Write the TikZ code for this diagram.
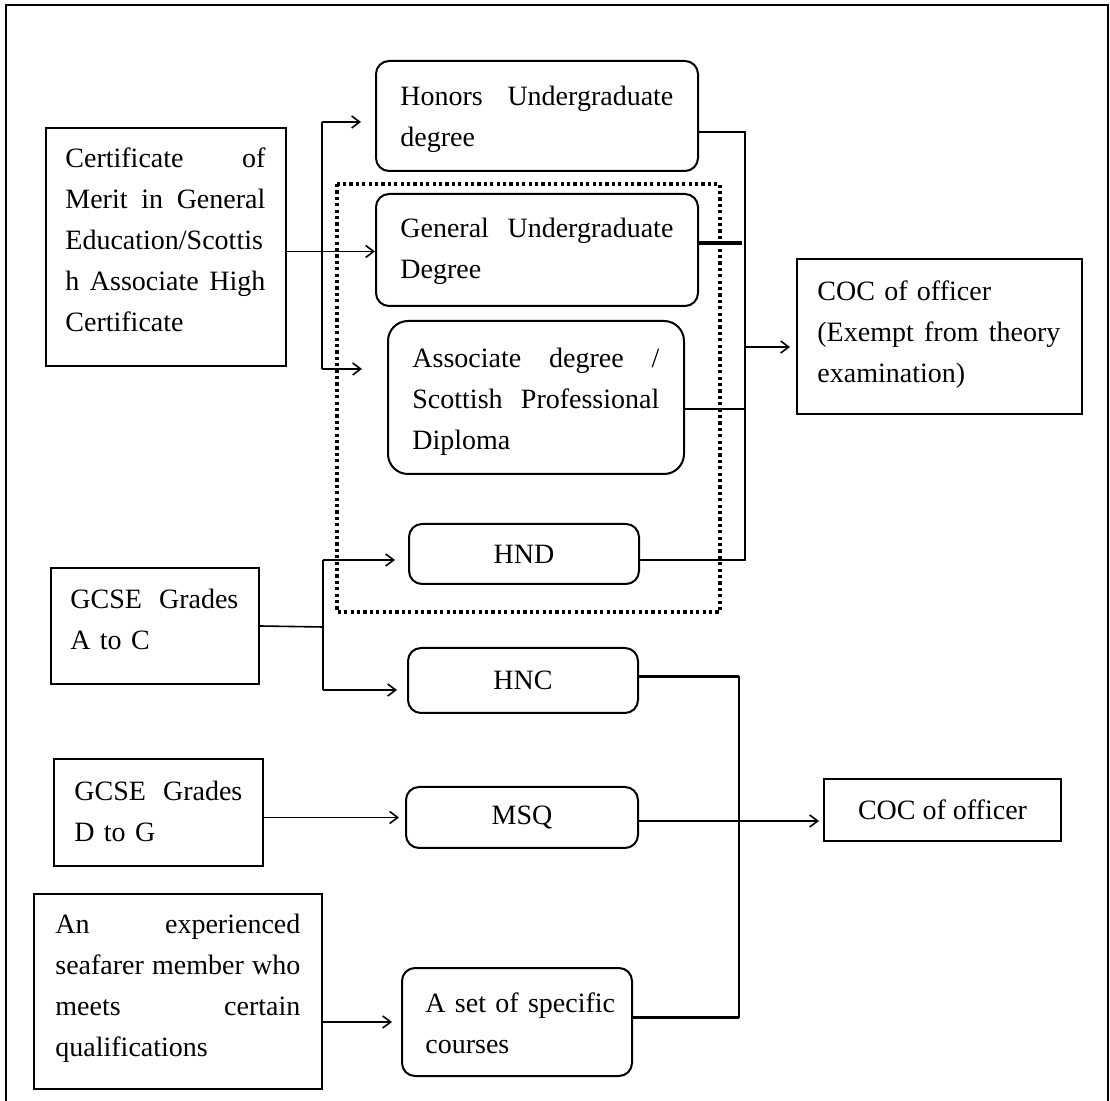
\documentclass[tikz,border=0pt]{standalone}
\usepackage{fontspec}
\setmainfont{Liberation Serif}
\usetikzlibrary{arrows.meta}
\begin{document}
\begin{tikzpicture}[x=0.5pt,y=-0.5pt,
  font=\fontsize{14}{20.5}\selectfont,
  sqbox/.style={draw, line width=1pt, inner sep=0pt, anchor=north west},
  rbox/.style={sqbox, rounded corners=6.5pt},
  txt/.style={inner sep=0pt, anchor=north west, align=left},
  conn/.style={line width=0.8pt},
  heavy/.style={line width=1.6pt},
  arr/.style={conn, -{Straight Barb[length=4pt,width=6pt]}},
  dotbox/.style={line width=2pt, dash pattern=on 1.6pt off 1.6pt}]
\useasboundingbox (0,0) rectangle (1110,1101);
\draw[line width=1.2pt] (6,1101) -- (6,5) -- (1108,5) -- (1108,1101);

% boxes
\node[sqbox, minimum width=120pt, minimum height=119pt] (cert) at (45,127) {};
\node[rbox, minimum width=161pt, minimum height=55pt] (honors) at (375,60) {};
\node[rbox, minimum width=161pt, minimum height=56pt] (general) at (375,193) {};
\node[rbox, rounded corners=10pt, minimum width=148pt, minimum height=76.5pt] (assoc) at (387,320) {};
\node[rbox, minimum width=115pt, minimum height=30pt] (hnd) at (408,523) {HND};
\node[rbox, minimum width=115pt, minimum height=32.5pt] (hnc) at (407,647) {HNC};
\node[rbox, minimum width=116pt, minimum height=30.5pt] (msq) at (405,786) {MSQ};
\node[rbox, minimum width=115pt, minimum height=54pt] (set) at (401,967) {};
\node[sqbox, minimum width=142.5pt, minimum height=77.5pt] (coc1) at (796,258) {};
\node[sqbox, minimum width=118.5pt, minimum height=31pt] (coc2) at (823,778) {COC of officer};
\node[sqbox, minimum width=104pt, minimum height=58pt] (gac) at (50,567) {};
\node[sqbox, minimum width=104.5pt, minimum height=53.5pt] (gdg) at (53,758) {};
\node[sqbox, minimum width=144pt, minimum height=97.5pt] (exp) at (33,893) {};
\draw[dotbox] (337,184) rectangle (720,612);

% texts
\node[txt, text width=100pt] (certt) at (65,138.3) {\strut Certificate\hfill of\\Merit\hfill in\hfill General\\Education/Scottis\\h\hfill Associate\hfill High\\Certificate};
\node[txt, text width=136.5pt] (honorst) at (400,76.3) {\strut Honors\hfill Undergraduate\\degree};
\node[txt, text width=136.5pt] (generalt) at (400,208.3) {\strut General\hfill Undergraduate\\Degree};
\node[txt, text width=123.5pt] (assoct) at (412,338.3) {\strut Associate\hfill degree\hfill /\\Scottish\hfill Professional\\Diploma};
\node[txt, text width=121.5pt] (coc1t) at (817,271.3) {\strut COC of officer\\(Exempt\hfill from\hfill theory\\examination)};
\node[txt, text width=84pt] (gact) at (70,579.3) {\strut GCSE\hfill Grades\\A to C};
\node[txt, text width=84pt] (gdgt) at (74,771.3) {\strut GCSE\hfill Grades\\D to G};
\node[txt, text width=122.5pt] (expt) at (55,904.3) {\strut An\hfill experienced\\seafarer\hfill member\hfill who\\meets\hfill certain\\qualifications};
\node[txt, text width=100pt] (sett) at (425,983.3) {\strut A set of specific\\courses};

% left bracket from certificate
\coordinate (lb1) at (322,122);
\coordinate (lb2) at (322,369);
\draw[conn] (lb1) -- (lb2);
\draw[arr, shorten >=7pt] (lb1) -- (lb1 -| honors.west);
\draw[arr, shorten >=12.5pt] (lb2) -- (lb2 -| assoc.west);
\coordinate (c1) at ([yshift=-2.25pt]cert.east);
\draw[arr] (c1) -- (c1 -| general.west);

% GCSE A to C
\coordinate (gj) at (323,627);
\draw[conn] (gac.east) -- (gj);
\coordinate (h1) at ([yshift=-3pt]hnd.west);
\coordinate (h2) at ([yshift=-4.75pt]hnc.west);
\draw[conn] (gj |- h1) -- (gj |- h2);
\draw[arr, shorten >=6.5pt] (gj |- h1) -- (h1);
\draw[arr, shorten >=5pt] (gj |- h2) -- (h2);

% GCSE D to G, experienced
\draw[arr, shorten >=3pt] (gdg.east |- msq.west) -- (msq.west);
\draw[arr, shorten >=4.5pt] (exp.east |- set.west) -- (set.west);

% upper right bus
\coordinate (bus) at (745,0);
\coordinate (u1) at ([yshift=-8pt]honors.east);
\coordinate (u2) at ([yshift=3.5pt]general.east);
\coordinate (u3) at ([yshift=-5.75pt]assoc.east);
\coordinate (u4) at ([yshift=-3pt]hnd.east);
\draw[conn] (u1) -- (u1 -| bus) -- (u4 -| bus) -- (u4);
\draw[heavy, shorten >=1.5pt] (u2) -- (u2 -| bus);
\draw[conn] (u3) -- (u3 -| bus);
\coordinate (r1) at (745,347);
\draw[arr, shorten >=3pt] (r1) -- (r1 -| coc1.west);

% lower right bus
\coordinate (bus2) at (739,0);
\coordinate (l1) at ([yshift=2pt]hnc.east);
\coordinate (l3) at ([yshift=2.25pt]set.east);
\draw[heavy] (l1) -- (l1 -| bus2);
\draw[heavy] (l3) -- (l3 -| bus2);
\draw[conn] (l1 -| bus2) -- (l3 -| bus2);
\coordinate (m1) at ([yshift=-1.75pt]msq.east);
\draw[arr, shorten >=2pt] (m1) -- (m1 -| coc2.west);
\end{tikzpicture}
\end{document}
